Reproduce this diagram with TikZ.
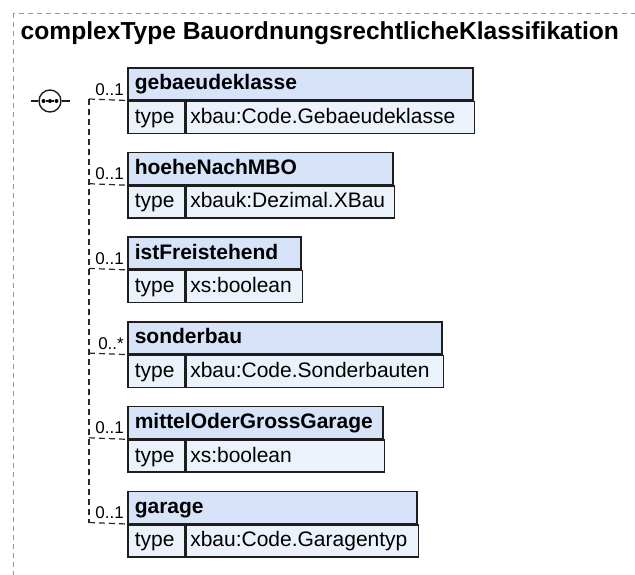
\documentclass[tikz,border=0pt]{standalone}
\usepackage{fontspec}
\setmainfont{Liberation Sans}
\definecolor{hdrfill}{RGB}{214,227,248}
\definecolor{rowfill}{RGB}{236,242,252}
\definecolor{boxline}{RGB}{30,30,30}
\definecolor{outerline}{RGB}{150,150,150}
\definecolor{connline}{RGB}{40,40,40}
\tikzset{
  hdr/.style={draw=boxline, line width=1.5pt, fill=hdrfill, anchor=north west,
    minimum height=32pt, inner xsep=7pt, inner ysep=0pt, align=left,
    text height=16pt, text depth=4pt, font=\fontsize{21}{24}\selectfont\bfseries},
  tcell/.style={draw=boxline, line width=1.5pt, fill=rowfill, anchor=north west,
    minimum height=32pt, inner xsep=7pt, inner ysep=0pt, text width=43pt, align=left,
    text height=16pt, text depth=4pt, font=\fontsize{21}{24}\selectfont},
  vcell/.style={draw=boxline, line width=1.5pt, fill=rowfill, anchor=north west,
    minimum height=32pt, inner xsep=4pt, inner ysep=0pt, align=left,
    text height=16pt, text depth=4pt, font=\fontsize{21}{24}\selectfont},
  conn/.style={draw=connline, line width=1.2pt, dash pattern=on 6pt off 4pt},
  outerbox/.style={draw=outerline, line width=1pt, dash pattern=on 5pt off 4pt},
  mult/.style={anchor=base east, inner sep=0pt, font=\fontsize{17}{20}\selectfont},
  titletext/.style={anchor=base west, inner sep=0pt, font=\fontsize{24.6}{28}\selectfont\bfseries},
  dot/.style={circle, fill=black, inner sep=0pt, minimum size=4pt},
}
\newcommand{\xbox}[6]{% name, top, right, header, value, mult
  \pgfmathsetmacro{\hwt}{#3-127-14}
  \pgfmathsetmacro{\vw}{#3-184-8}
  \node[hdr, text width=\hwt pt] (h#1) at (127,#2) {#4};
  \node[tcell] (t#1) at (h#1.south west) {type};
  \node[vcell, text width=\vw pt] (v#1) at (t#1.north east) {#5};
  \coordinate (j#1) at (89,#2+32);
  \draw[conn] (j#1) -- (h#1.south west);
  \node[mult] (m#1) at (124,#2+28) {#6};
}
\begin{document}
\begin{tikzpicture}[x=1pt,y=-1pt]
\path[use as bounding box] (0,0) rectangle (635,574);
\begin{scope}
\clip (0,0) rectangle (635,574);
\draw[outerbox] (13,13) rectangle (660,600);
\end{scope}
\node[titletext] (title) at (20.5,39) {complexType BauordnungsrechtlicheKlassifikation};
% compositor
\node[circle, draw=boxline, line width=1.4pt, fill=white, minimum size=22pt, inner sep=0pt] (seq) at (50,101) {};
\node[dot] (d1) at (43.5,101) {};
\node[dot] (d2) at (50,101) {};
\node[dot] (d3) at (56.5,101) {};
\draw[boxline, line width=1.2pt] (d1) -- (d2) -- (d3);
\coordinate (sl) at (31,101);
\coordinate (sr) at (70,101);
\draw[boxline, line width=1.2pt] (sl) -- (seq.west);
\draw[boxline, line width=1.2pt] (seq.east) -- (sr);
% children
\xbox{1}{67}{472}{gebaeudeklasse}{xbau:Code.Gebaeudeklasse}{0..1}
\xbox{2}{151.7}{392}{hoeheNachMBO}{xbauk:Dezimal.XBau}{0..1}
\xbox{3}{236.4}{300}{istFreistehend}{xs:boolean}{0..1}
\xbox{4}{321.1}{441}{sonderbau}{xbau:Code.Sonderbauten}{0..*}
\xbox{5}{405.8}{382}{mittelOderGrossGarage}{xs:boolean}{0..1}
\xbox{6}{490.5}{416}{garage}{xbau:Code.Garagentyp}{0..1}
\draw[conn] (j1) -- (j6);
\end{tikzpicture}
\end{document}
